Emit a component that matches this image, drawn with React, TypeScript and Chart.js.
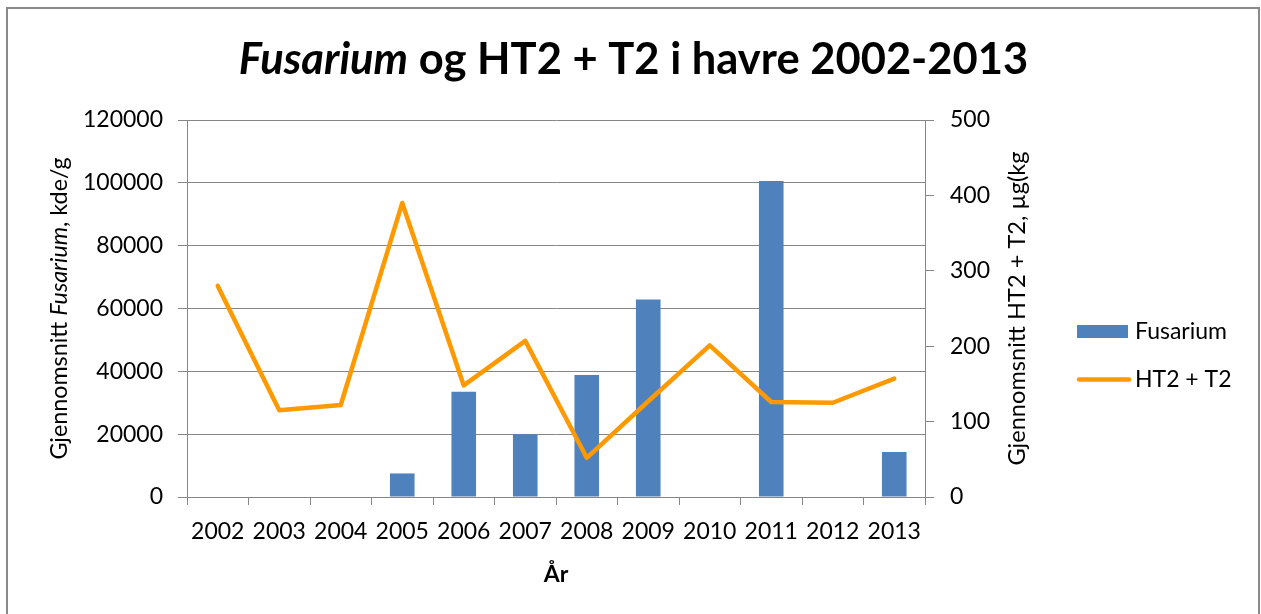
import React, { useEffect, useRef } from 'react';
import { Chart, registerables } from 'chart.js';

Chart.register(...registerables);

const years = ['2002', '2003', '2004', '2005', '2006', '2007', '2008', '2009', '2010', '2011', '2012', '2013'];
const fusarium: (number | null)[] = [null, null, null, 7500, 33500, 20000, 38800, 62900, null, 100600, null, 14300];
const ht2t2 = [280, 115, 122, 390, 148, 207, 52, 127, 201, 126, 125, 157];
const leftTicks = [0, 20000, 40000, 60000, 80000, 100000, 120000];
const rightTicks = [0, 100, 200, 300, 400, 500];

type Part = { text: string; italic?: boolean };
const titleParts: Part[] = [{ text: 'Fusarium', italic: true }, { text: ' og HT2 + T2 i havre 2002-2013' }];
const leftTitleParts: Part[] = [{ text: 'Gjennomsnitt ' }, { text: 'Fusarium', italic: true }, { text: ', kde/g' }];
const rightTitleParts: Part[] = [{ text: 'Gjennomsnitt HT2 + T2, µg(kg' }];
const xTitle = 'År';
const seriesNames = ['Fusarium', 'HT2 + T2'];

const FONT = "Lato, 'Open Sans', sans-serif";
const BLUE = '#4F81BD';
const ORANGE = '#FF9900';
const GRID = '#868686';

function fontStr(italic: boolean | undefined, bold: boolean, size: number) {
  return `${italic ? 'italic ' : ''}${bold ? 'bold ' : ''}${size}px ${FONT}`;
}

function drawParts(
  ctx: CanvasRenderingContext2D,
  parts: Part[],
  bold: boolean,
  size: number,
  x: number,
  y: number,
  rotate: boolean
) {
  ctx.save();
  ctx.translate(x, y);
  if (rotate) ctx.rotate(-Math.PI / 2);
  ctx.textBaseline = 'alphabetic';
  ctx.textAlign = 'left';
  let total = 0;
  const widths = parts.map((p) => {
    ctx.font = fontStr(p.italic, bold, size);
    const w = ctx.measureText(p.text).width;
    total += w;
    return w;
  });
  let cx = -total / 2;
  parts.forEach((p, i) => {
    ctx.font = fontStr(p.italic, bold, size);
    ctx.fillStyle = '#000';
    ctx.fillText(p.text, cx, 0);
    cx += widths[i];
  });
  ctx.restore();
}

const decorPlugin = {
  id: 'decor',
  afterDraw(chart: any) {
    const ctx: CanvasRenderingContext2D = chart.ctx;
    const area = chart.chartArea;
    ctx.save();
    // frame
    ctx.strokeStyle = '#8a8a8a';
    ctx.lineWidth = 2;
    ctx.strokeRect(7, 8, 1252, 700);
    // title
    drawParts(ctx, titleParts, true, 43.5, 633.5, 73.5, false);
    // x axis title
    drawParts(ctx, [{ text: xTitle }], true, 23, (area.left + area.right) / 2, 582, false);
    // y titles
    const cy = (area.top + area.bottom) / 2;
    drawParts(ctx, leftTitleParts, false, 23.3, 67, cy, true);
    drawParts(ctx, rightTitleParts, false, 23.6, 1025, cy, true);
    // legend
    ctx.fillStyle = BLUE;
    ctx.fillRect(1077, 325, 51, 13);
    ctx.strokeStyle = ORANGE;
    ctx.lineWidth = 4.5;
    ctx.lineCap = 'round';
    ctx.beginPath();
    ctx.moveTo(1079, 379.5);
    ctx.lineTo(1129, 379.5);
    ctx.stroke();
    ctx.fillStyle = '#000';
    ctx.font = fontStr(false, false, 23);
    ctx.textAlign = 'left';
    ctx.textBaseline = 'alphabetic';
    ctx.fillText(seriesNames[0], 1135, 339);
    ctx.fillText(seriesNames[1], 1135, 387);
    ctx.restore();
  },
};

export default function App() {
  const ref = useRef<HTMLCanvasElement | null>(null);
  useEffect(() => {
    if (!ref.current) return;
    const tickFont = { family: FONT, size: 23 };
    const chart = new Chart(ref.current, {
      type: 'bar',
      data: {
        labels: years,
        datasets: [
          {
            type: 'line',
            label: seriesNames[1],
            data: ht2t2,
            yAxisID: 'y1',
            borderColor: ORANGE,
            backgroundColor: ORANGE,
            borderWidth: 4.5,
            pointRadius: 0,
            tension: 0,
            borderJoinStyle: 'round',
            borderCapStyle: 'round',
            order: 0,
          } as any,
          {
            type: 'bar',
            label: seriesNames[0],
            data: fusarium,
            yAxisID: 'y',
            backgroundColor: BLUE,
            categoryPercentage: 1,
            barPercentage: 0.4,
            order: 1,
          } as any,
        ],
      },
      options: {
        responsive: false,
        animation: false,
        devicePixelRatio: 1,
        layout: { padding: { top: 120, bottom: 57, left: 0, right: 0 } },
        plugins: { legend: { display: false }, title: { display: false }, tooltip: { enabled: false } },
        scales: {
          x: {
            offset: true,
            grid: { offset: true, drawOnChartArea: false, drawTicks: true, tickLength: 8, color: GRID },
            border: { color: GRID, width: 1 },
            ticks: { font: tickFont, color: '#000', padding: 13, maxRotation: 0, autoSkip: false },
            afterFit: (s: any) => {
              s.height = 60;
            },
          },
          y: {
            position: 'left',
            min: 0,
            max: 120000,
            grid: { color: GRID, tickLength: 9 },
            border: { color: GRID, width: 1 },
            ticks: { font: tickFont, color: '#000', padding: 15, callback: (v: any) => String(v) },
            afterBuildTicks: (s: any) => {
              s.ticks = leftTicks.map((v) => ({ value: v }));
            },
            afterFit: (s: any) => {
              s.width = 187;
            },
          },
          y1: {
            position: 'right',
            min: 0,
            max: 500,
            grid: { drawOnChartArea: false, color: GRID, tickLength: 9 },
            border: { color: GRID, width: 1 },
            ticks: { font: tickFont, color: '#000', padding: 16, callback: (v: any) => String(v) },
            afterBuildTicks: (s: any) => {
              s.ticks = rightTicks.map((v) => ({ value: v }));
            },
            afterFit: (s: any) => {
              s.width = 336;
            },
          },
        },
      } as any,
      plugins: [decorPlugin],
    });
    return () => chart.destroy();
  }, []);
  return (
    <div style={{ position: 'fixed', left: 0, top: 0, width: 1261, height: 614, background: '#fff' }}>
      <canvas ref={ref} width={1261} height={614} style={{ display: 'block', width: 1261, height: 614 }} />
    </div>
  );
}
